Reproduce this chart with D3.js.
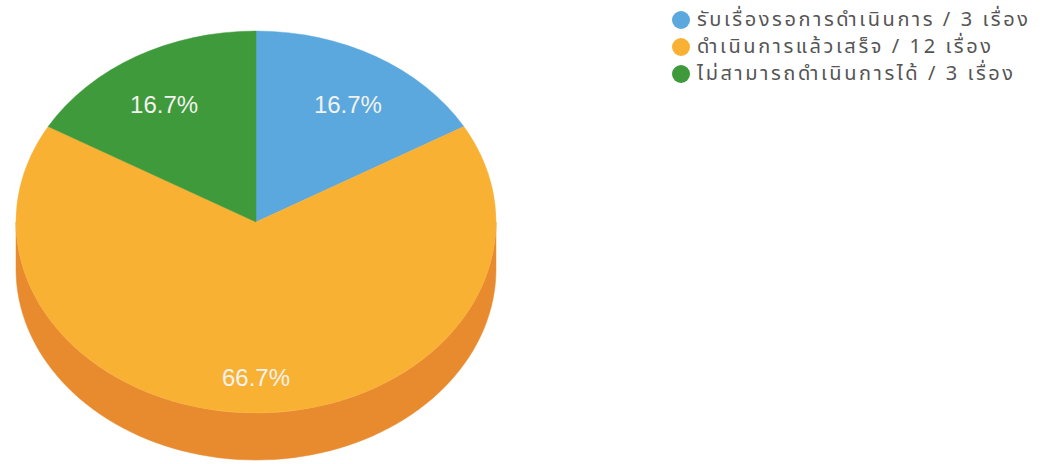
<!DOCTYPE html>
<html>
<head>
<meta charset="utf-8">
<script src="https://cdn.jsdelivr.net/npm/d3@7"></script>
<style>
  html, body { margin: 0; padding: 0; background: #ffffff; }
  svg { display: block; }
  text { font-family: Tahoma, "Noto Sans Thai", "Noto Sans", "Liberation Sans", Arial, sans-serif; }
  .lbl { font-family: "Liberation Sans", Arial, sans-serif; }
</style>
</head>
<body>
<svg id="chart" width="1040" height="464"></svg>
<script>
const categories = ["รับเรื่องรอการดำเนินการ", "ดำเนินการแล้วเสร็จ", "ไม่สามารถดำเนินการได้"];
const values = [3, 12, 3];
const unitLabel = "เรื่อง";
const colors = ["#5aa8de", "#f9b134", "#3e9a3b"];
const sideColors = ["#3f8cc0", "#e88a2e", "#2e7d2c"];

const W = 1040, H = 464;
const cx = 256, cy = 222, rx = 240, ry = 191, depth = 47;
const svg = d3.select("#chart");

const pie = d3.pie().sort(null).value(d => d.v);
const data = categories.map((c, i) => ({ c, v: values[i], i }));
const arcs = pie(data);
const total = d3.sum(values);

// point on ellipse for d3 angle (0 = 12 o'clock, clockwise)
const pt = (a, dy) => [cx + rx * Math.sin(a), cy - ry * Math.cos(a) + (dy || 0)];

// side walls (front half: angles between PI/2 and 3PI/2)
const line = d3.line();
const gSide = svg.append("g");
arcs.forEach(a => {
  const s = Math.max(a.startAngle, Math.PI / 2);
  const e = Math.min(a.endAngle, Math.PI * 1.5);
  if (e <= s) return;
  const n = 80;
  const top = d3.range(n + 1).map(k => pt(s + (e - s) * k / n, 0));
  const bot = d3.range(n + 1).map(k => pt(e - (e - s) * k / n, depth));
  gSide.append("path")
    .attr("d", line(top.concat(bot)) + "Z")
    .attr("fill", sideColors[a.data.i])
    .attr("stroke", sideColors[a.data.i])
    .attr("stroke-width", 0.5);
});

// top face
const arc = d3.arc().innerRadius(0).outerRadius(rx);
const gTop = svg.append("g").attr("transform", `translate(${cx},${cy}) scale(1,${ry / rx})`);
gTop.selectAll("path").data(arcs).join("path")
  .attr("d", arc)
  .attr("fill", d => colors[d.data.i])
  .attr("stroke", d => colors[d.data.i])
  .attr("stroke-width", 0.5);

// slice labels
const labelFrac = 0.766, labelShift = 9;
svg.append("g").selectAll("text").data(arcs).join("text")
  .attr("class", "lbl")
  .attr("x", d => cx + rx * labelFrac * Math.sin((d.startAngle + d.endAngle) / 2))
  .attr("y", d => cy - ry * labelFrac * Math.cos((d.startAngle + d.endAngle) / 2) + labelShift)
  .attr("text-anchor", "middle")
  .attr("dominant-baseline", "central")
  .attr("fill", "#f2f2ee")
  .attr("font-size", 24)
  .text(d => (d.data.v / total * 100).toFixed(1) + "%");

// legend
const legend = svg.append("g").attr("transform", "translate(681,20)");
const rows = legend.selectAll("g").data(data).join("g")
  .attr("transform", (d, i) => `translate(0,${i * 27})`);
rows.append("circle").attr("r", 9).attr("fill", d => colors[d.i]);
rows.append("text")
  .attr("x", 16)
  .attr("dominant-baseline", "central")
  .attr("font-size", 20)
  .attr("letter-spacing", 2.6)
  .attr("fill", "#555555")
  .text(d => `${d.c} / ${d.v} ${unitLabel}`);
</script>
</body>
</html>
